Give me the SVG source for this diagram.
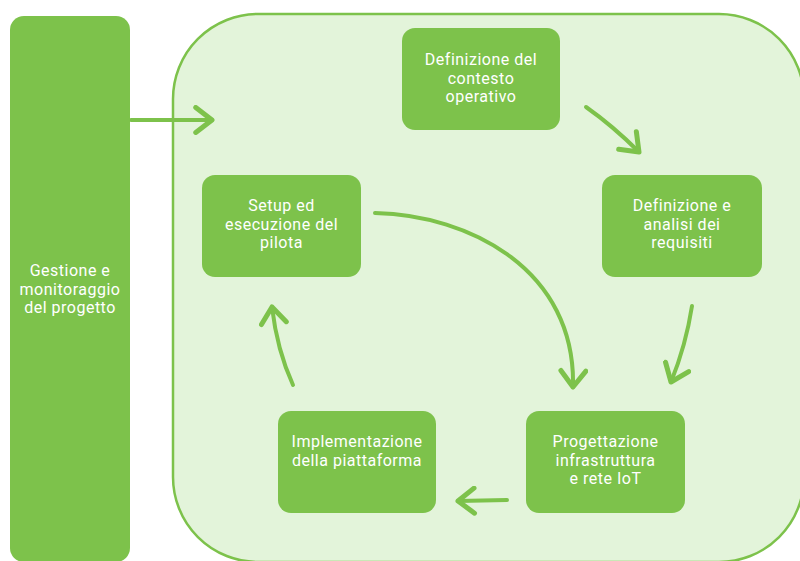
<svg xmlns="http://www.w3.org/2000/svg" width="800" height="561" viewBox="0 0 800 561">
<defs>
<style>
.node{fill:#7dc24b;}
.lbl{fill:#ffffff;font-family:Roboto,"Liberation Sans",sans-serif;font-size:16px;letter-spacing:0.5px;text-anchor:middle;}
.conn{fill:none;stroke:#7dc24b;stroke-width:4;stroke-linecap:round;}
</style>
<marker id="chev" markerUnits="userSpaceOnUse" markerWidth="30" markerHeight="30" viewBox="-16 -12 20 24" refX="0" refY="0" orient="auto">
<path d="M-13,-10 L0,0 L-13,10" fill="none" stroke="#7dc24b" stroke-width="4" stroke-linecap="round" stroke-linejoin="round"/>
</marker>
</defs>
<rect width="800" height="561" fill="#ffffff"/>
<g id="container">
<rect x="173" y="14" width="631" height="548" rx="85" ry="85" fill="#e3f4da" stroke="#7dc24b" stroke-width="2.5"/>
</g>
<g id="gestione">
<rect class="node" x="10" y="16" width="120" height="546" rx="14"/>
<text class="lbl" x="70" y="276">Gestione e</text>
<text class="lbl" x="70" y="294.5">monitoraggio</text>
<text class="lbl" x="70" y="313">del progetto</text>
</g>
<g id="contesto">
<rect class="node" x="402" y="28" width="158" height="102" rx="13"/>
<text class="lbl" x="481" y="65">Definizione del</text>
<text class="lbl" x="481" y="83.5">contesto</text>
<text class="lbl" x="481" y="102">operativo</text>
</g>
<g id="requisiti">
<rect class="node" x="602" y="175" width="160" height="102" rx="13"/>
<text class="lbl" x="682" y="211">Definizione e</text>
<text class="lbl" x="682" y="229.5">analisi dei</text>
<text class="lbl" x="682" y="248">requisiti</text>
</g>
<g id="pilota">
<rect class="node" x="202" y="175" width="159" height="102" rx="13"/>
<text class="lbl" x="281.5" y="211">Setup ed</text>
<text class="lbl" x="281.5" y="229.5">esecuzione del</text>
<text class="lbl" x="281.5" y="248">pilota</text>
</g>
<g id="progettazione">
<rect class="node" x="526" y="411" width="159" height="102" rx="13"/>
<text class="lbl" x="605.5" y="447">Progettazione</text>
<text class="lbl" x="605.5" y="465.5">infrastruttura</text>
<text class="lbl" x="605.5" y="484">e rete IoT</text>
</g>
<g id="implementazione">
<rect class="node" x="278" y="411" width="158" height="102" rx="13"/>
<text class="lbl" x="357" y="447">Implementazione</text>
<text class="lbl" x="357" y="465.5">della piattaforma</text>
</g>
<g id="connectors">
<path class="conn" d="M131,120 L212,120" marker-end="url(#chev)"/>
<path class="conn" d="M586,107 Q613,126 639,152" marker-end="url(#chev)"/>
<path class="conn" d="M692,306 Q686,345 671,382" marker-end="url(#chev)"/>
<path class="conn" d="M375,213 C470,215 576,270 573,387" marker-end="url(#chev)"/>
<path class="conn" d="M507,500 L458,501" marker-end="url(#chev)"/>
<path class="conn" d="M293,385 Q277,350 272,307" marker-end="url(#chev)"/>
</g>
</svg>
